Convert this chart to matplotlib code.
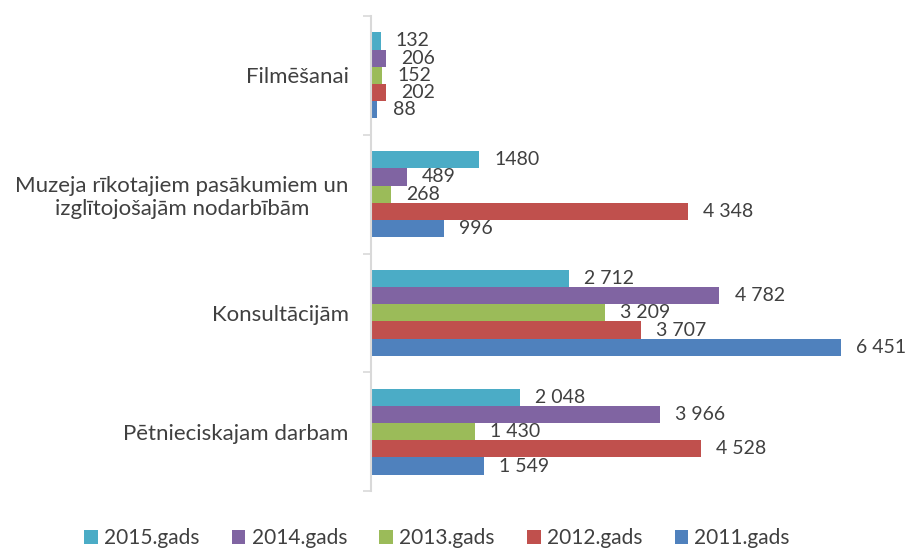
import numpy as np
import matplotlib
matplotlib.use("Agg")
import matplotlib.pyplot as plt

# categories from bottom to top
categories = ["Pētnieciskajam darbam", "Konsultācijām",
              "Muzeja rīkotajiem pasākumiem un\nizglītojošajām nodarbībām", "Filmēšanai"]
years = ["2015.gads", "2014.gads", "2013.gads", "2012.gads", "2011.gads"]
colors = ["#4BACC6", "#8064A2", "#9BBB59", "#C0504D", "#4F81BD"]

v2015 = [2048, 2712, 1480, 132]
v2014 = [3966, 4782, 489, 206]
v2013 = [1430, 3209, 268, 152]
v2012 = [4528, 3707, 4348, 202]
v2011 = [1549, 6451, 996, 88]
series = [v2015, v2014, v2013, v2012, v2011]


def fmt(v):
    if v == 1480:
        return "1480"
    return "{:,}".format(v).replace(",", " ")


plt.rcParams['font.family'] = ['Lato', 'DejaVu Sans']
txt_col = "#404040"

fig = plt.figure(figsize=(9.05, 5.49), dpi=100)
ax = fig.add_axes([371 / 905, 1 - 491 / 549, 510 / 905, (491 - 16) / 549])

y = np.arange(len(categories))
h = 0.145
for i, (vals, col, lab) in enumerate(zip(series, colors, years)):
    pos = y + (2 - i) * h
    bars = ax.barh(pos, vals, height=h, color=col, label=lab)
    for b, v in zip(bars, vals):
        ax.annotate(fmt(v), (b.get_width(), b.get_y() + b.get_height() / 2),
                    xytext=(11, 0), textcoords="offset points",
                    va="center", ha="left", fontsize=14, color=txt_col)

ax.set_xlim(0, 7000)
ax.set_ylim(-0.5, 3.5)
ax.set_yticks(y)
ax.set_yticklabels(categories, fontsize=16, color=txt_col, multialignment="center")
ax.set_yticks([-0.5, 0.5, 1.5, 2.5, 3.5], minor=True)
ax.tick_params(axis="y", which="major", length=0, pad=16)
ax.tick_params(axis="y", which="minor", length=6, color="#D9D9D9", width=1.2)
ax.set_xticks([])
for s in ["top", "right", "bottom"]:
    ax.spines[s].set_visible(False)
ax.spines["left"].set_color("#D9D9D9")
ax.spines["left"].set_linewidth(1.5)

leg = fig.legend(loc="lower center", bbox_to_anchor=(0.483, -0.033), ncol=5, frameon=False,
                 fontsize=15, handlelength=0.65, handleheight=0.65, handletextpad=0.3,
                 columnspacing=1.55)
for t in leg.get_texts():
    t.set_color(txt_col)

fig.savefig("out.png", dpi=100)
